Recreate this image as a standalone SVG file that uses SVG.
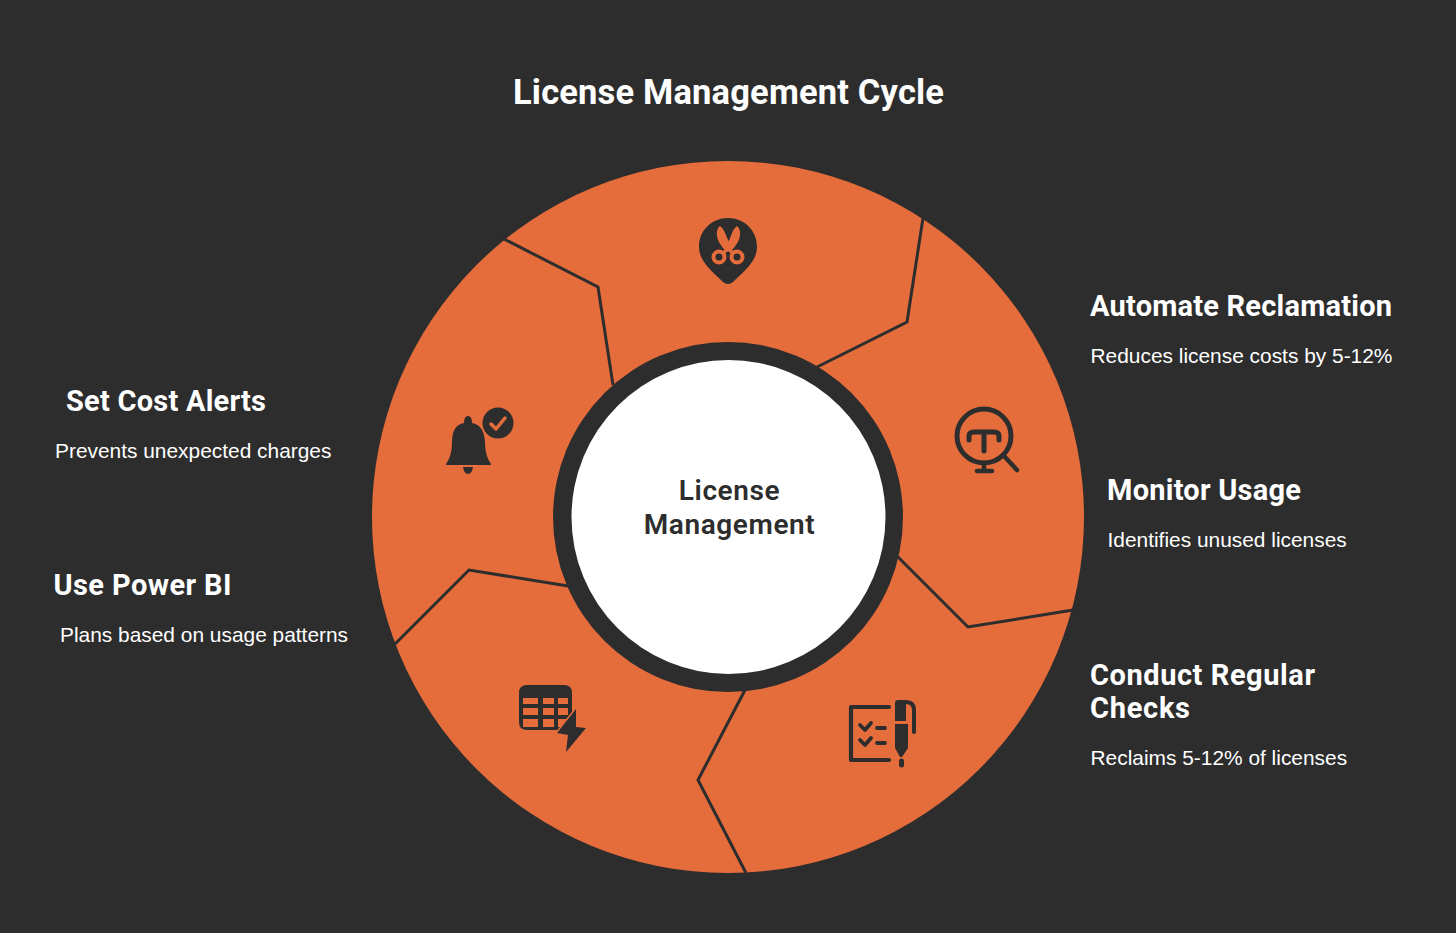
<svg xmlns="http://www.w3.org/2000/svg" width="1456" height="933" viewBox="0 0 1456 933">
<style>
text{font-family:Roboto,"Liberation Sans",sans-serif}
.title{font-size:34.500px;font-weight:700;fill:#fff}
.h{font-size:29px;font-weight:700;fill:#fff}
.d{font-family:"Liberation Sans",Arial,sans-serif;font-size:20.900px;font-weight:400;fill:#fff}
.c{font-size:28px;font-weight:600;fill:#2d2d2d;text-anchor:middle;letter-spacing:.6px}
.div{fill:none;stroke:#2d2d2d;stroke-width:3}
.ic{fill:#2d2d2d}
.st{fill:none;stroke:#2d2d2d;stroke-linecap:round;stroke-linejoin:round}
.o{fill:none;stroke:#e56d3c;stroke-linecap:round;stroke-linejoin:round}
.of{fill:#e56d3c}
</style>
<rect width="1456" height="933" fill="#2d2d2d"/>
<text class="title" x="513" y="104" textLength="431">License Management Cycle</text>
<circle cx="728" cy="517" r="356" fill="#e56d3c"/>
<g id="connectors">
<path class="div" d="M923 218L907 322L817 367"/>
<path class="div" d="M1073 610L968 627L897 556"/>
<path class="div" d="M746 873L698 780L745 690"/>
<path class="div" d="M395 644L469 570L568 586"/>
<path class="div" d="M504 239L598 287L613 385"/>
</g>
<g id="center">
<circle cx="728" cy="517" r="175" fill="#2d2d2d"/>
<circle cx="728.500" cy="517" r="157" fill="#fff"/>
<text class="c" x="729.500" y="500">License</text>
<text class="c" x="729.500" y="534">Management</text>
</g>
<g id="node-automate">
<path class="ic" d="M728 284C725 284 723 282 721 280C708 268 699 259 699 247C699 230 712 218 728 218C744 218 757 230 757 247C757 259 748 268 735 280C733 282 731 284 728 284Z"/>
<path class="of" d="M720 226C715 230 715 241 727 252L731 245C726 238 725 229 720 226ZM737 226C732 229 731 238 727 245L730 252C742 241 742 230 737 226Z"/>
<circle class="o" cx="719" cy="257" r="5.500" stroke-width="4"/>
<circle class="o" cx="737" cy="257" r="5.500" stroke-width="4"/>
<path class="o" stroke-width="3.500" d="M723 253L728 249L733 253"/>
<text class="h" x="1090" y="316" textLength="302">Automate Reclamation</text>
<text class="d" x="1090.500" y="363">Reduces license costs by 5-12%</text>
</g>
<g id="node-monitor">
<circle class="st" cx="984" cy="436" r="27" stroke-width="5"/>
<path class="st" stroke-width="5" d="M969 440V436Q969 432 974 432H994Q999 432 999 436V440M984 433V451"/>
<path class="st" stroke-width="4.500" d="M984 463V471M977 471H992M1004 456L1017 470"/>
<text class="h" x="1107" y="500" textLength="194">Monitor Usage</text>
<text class="d" x="1107.500" y="547">Identifies unused licenses</text>
</g>
<g id="node-checks">
<path class="st" stroke-width="4.200" d="M889 707H851V760H889"/>
<path class="st" stroke-width="3.800" d="M860 725L865 730L871 723M877 728H885M860 740L865 745L871 738M877 743H885"/>
<path class="ic" d="M895 703Q895 700 898 700H906V721H895ZM895 724H908V748L902 757H900L895 748Z"/>
<path class="st" stroke-width="4" d="M906 702Q914 702 914 710V732"/>
<path class="st" stroke-width="5" d="M901.500 761V765"/>
<text class="h" x="1090" y="685" textLength="225">Conduct Regular</text>
<text class="h" x="1090" y="718" textLength="100">Checks</text>
<text class="d" x="1090.500" y="765">Reclaims 5-12% of licenses</text>
</g>
<g id="node-powerbi">
<path class="ic" fill-rule="evenodd" d="M527 685H564Q572 685 572 693V722Q572 730 564 730H527Q519 730 519 722V693Q519 685 527 685ZM523 698V704H538V698ZM543 698V704H554V698ZM558 698V704H568V698ZM523 708V715H538V708ZM543 708V715H554V708ZM558 708V715H568V708ZM523 719V727H538V719ZM543 719V727H554V719ZM558 719V727H568V719Z"/>
<path class="ic" stroke="#e56d3c" stroke-width="3" paint-order="stroke" d="M576 709L557 733L568 735L566 752L586 728L576 727Z"/>
<text class="h" x="53.500" y="595" textLength="178">Use Power BI</text>
<text class="d" x="60" y="642">Plans based on usage patterns</text>
</g>
<g id="node-alerts">
<path class="ic" d="M468 416Q472 416 472 423Q484 425 485 442Q485 456 491 464V465H446V464Q452 456 452 442Q452 425 464 423Q464 416 468 416ZM463 467H473Q472 474 468 474Q464 474 463 467Z"/>
<circle class="ic" cx="498" cy="423" r="15.500"/>
<path class="o" stroke-width="3.500" d="M491 424L496 429L505 418"/>
<text class="h" x="66" y="411" textLength="200">Set Cost Alerts</text>
<text class="d" x="55" y="458">Prevents unexpected charges</text>
</g>
</svg>
